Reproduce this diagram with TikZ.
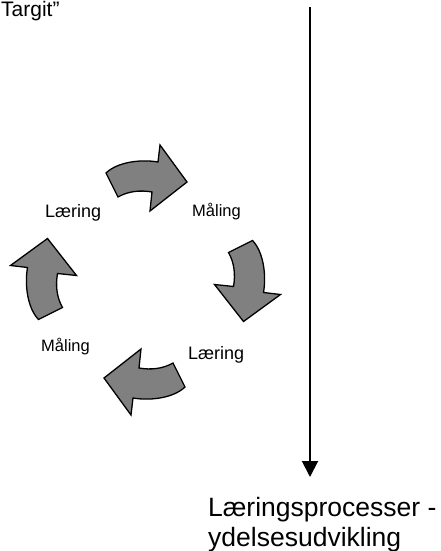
\documentclass[tikz,border=0pt]{standalone}
\usepackage{fontspec}
\setmainfont{Liberation Sans}
\usetikzlibrary{arrows.meta}
\definecolor{pilgraa}{RGB}{128,128,128}
\tikzset{
  pil/.style={draw=black, fill=pilgraa, line width=1.3pt},
  laering/.style={font=\fontsize{18}{21}\selectfont, anchor=base west, inner sep=0pt},
  maaling/.style={font=\fontsize{16.5}{20}\selectfont, anchor=base west, inner sep=0pt},
  stor/.style={font=\fontsize{26.5}{30}\selectfont, anchor=base west, inner sep=0pt, align=left}
}
\begin{document}
\begin{tikzpicture}[x=1pt,y=-1pt]
      \useasboundingbox (0,0) rectangle (441,551);
      \node[font=\fontsize{21}{25}\selectfont, anchor=base west, inner sep=0pt] (targit) at (1,17) {Targit”};
      % de fire buede pile
      \foreach \v in {0,-90,-180,-270}{
        \begin{scope}[shift={(145.5,280)}, rotate=\v]
          \draw[pil] (-39.5,-107) .. controls (-28,-118) and (-5,-121) .. (12.5,-118)
            -- (14.5,-135) -- (41.5,-98) -- (4.5,-69) -- (6.5,-88)
            .. controls (-5,-90) and (-17,-89) .. (-27.5,-83) -- cycle;
        \end{scope}
      }
      \node[laering] (laering1) at (45,217) {Læring};
      \node[maaling] (maaling1) at (192,216) {Måling};
      \node[laering] (laering2) at (188,359) {Læring};
      \node[maaling] (maaling2) at (41,351) {Måling};
      % tidslinje
      \coordinate (start) at (310,7);
      \coordinate (slut) at (310,477);
      \draw[line width=2pt, -{Triangle[width=16pt,length=16pt]}] (start) -- (slut);
      \node[stor] (proces) at (208,546.5) {Læringsprocesser -\\ydelsesudvikling};
\end{tikzpicture}
\end{document}
